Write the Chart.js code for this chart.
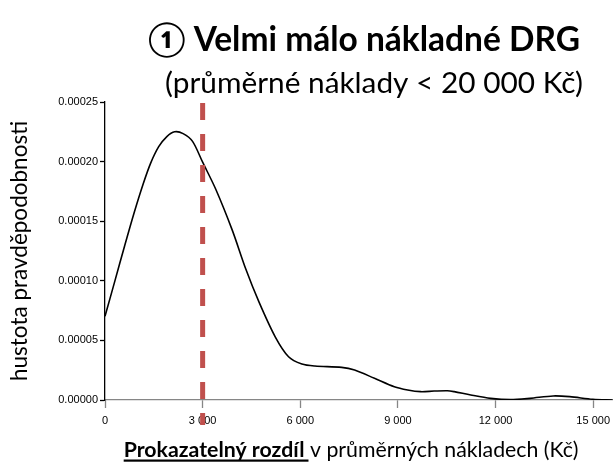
<!DOCTYPE html>
<html>
<head>
<meta charset="utf-8">
<script src="https://cdn.jsdelivr.net/npm/chart.js@4"></script>
<style>
  html, body { margin: 0; padding: 0; background: #fff; }
  #wrap { width: 616px; height: 463px; }
</style>
</head>
<body>
<div id="wrap"><canvas id="hustotaChart" width="616" height="463"></canvas></div>
<script>
// hodnoty (rozdíl v Kč -> hustota)
const rozdil = [0, 300, 600, 900, 1170, 1400, 1650, 1900, 2140, 2400, 2690, 3000, 3400, 3910, 4320, 4730, 5230, 5640, 6050, 6450, 7270, 7670, 8280, 8890, 9300, 9700, 10110, 10520, 10730, 11240, 11850, 12460, 13060, 13770, 14280, 14990, 15600];
const hustota = [0.0000702, 0.0000995, 0.000129, 0.0001575, 0.000181, 0.0001985, 0.0002125, 0.000221, 0.000225, 0.0002235, 0.000217, 0.0001995, 0.000177, 0.0001425, 0.0001103, 0.0000823, 0.000053, 0.0000363, 0.0000302, 0.0000285, 0.0000274, 0.0000251, 0.0000182, 0.0000111, 0.0000084, 0.000007, 0.0000075, 0.0000078, 0.000007, 0.0000042, 0.0000014, 0.0000003, 0.0000014, 0.0000034, 0.0000028, 0.0000006, 0.0000000];
const prah = 3000;
const xTicks = [0, 3000, 6000, 9000, 12000, 15000];

const titulek = '\u2460 Velmi málo nákladné DRG';
const podtitulek = '(průměrné náklady < 20 000 Kč)';
const popisXTucne = 'Prokazatelný rozdíl';
const popisX = ' v průměrných nákladech (Kč)';
const popisY = 'hustota pravděpodobnosti';

const texty = {
  id: 'texty',
  afterDraw(chart) {
    const c = chart.ctx;
    const xs = chart.scales.x, ys = chart.scales.y;
    // svislá přerušovaná čára na hodnotě 3000
    const px = xs.getPixelForValue(prah);
    c.save();
    c.strokeStyle = '#C0504D';
    c.lineWidth = 5;
    c.setLineDash([17, 14]);
    c.beginPath();
    c.moveTo(px, ys.getPixelForValue(0.00025) + 1);
    c.lineTo(px, ys.getPixelForValue(0) + 25);
    c.stroke();
    c.restore();

    c.save();
    c.fillStyle = '#000';
    c.textBaseline = 'alphabetic';
    c.textAlign = 'center';
    c.font = 'bold 33.5px Lato, "DejaVu Sans"';
    c.fillText(titulek, 364, 51);
    c.font = '29.8px Lato';
    c.fillText(podtitulek, 374, 93);

    // popis osy x, první část tučně a podtržená
    c.textAlign = 'left';
    c.font = 'bold 21.3px Lato';
    const w1 = c.measureText(popisXTucne).width;
    c.font = '21.3px Lato';
    const w2 = c.measureText(popisX).width;
    const x0 = 351 - (w1 + w2) / 2;
    c.font = 'bold 21.3px Lato';
    c.fillText(popisXTucne, x0, 457);
    c.fillRect(x0, 459.5, w1 + 4, 2.2);
    c.font = '21.3px Lato';
    c.fillText(popisX, x0 + w1, 457);
    c.restore();
  }
};

new Chart(document.getElementById('hustotaChart'), {
  type: 'line',
  data: {
    datasets: [{
      data: rozdil.map((x, i) => ({ x: x, y: hustota[i] })),
      borderColor: '#000',
      borderWidth: 1.6,
      pointRadius: 0,
      fill: false,
      tension: 0.3
    }]
  },
  options: {
    responsive: false,
    animation: false,
    layout: { padding: { top: 102, left: 0, right: 0, bottom: 0 } },
    plugins: { legend: { display: false }, tooltip: { enabled: false } },
    scales: {
      x: {
        type: 'linear',
        min: 0,
        max: 15600,
        afterFit(s) { s.height = 63; },
        afterBuildTicks(s) { s.ticks = xTicks.map(v => ({ value: v })); },
        border: { color: '#868686', width: 1.3 },
        grid: { drawOnChartArea: false, tickLength: 8, color: '#868686', tickWidth: 1.3 },
        ticks: {
          padding: 6,
          color: '#000',
          font: { family: 'Liberation Sans', size: 11 },
          maxRotation: 0,
          callback: v => v === 0 ? '0' : String(v).replace(/\B(?=(\d{3})+(?!\d))/g, ' ')
        }
      },
      y: {
        min: 0,
        max: 0.00025,
        afterFit(s) { s.width = 105; },
        border: { color: '#000', width: 1.3 },
        grid: { drawOnChartArea: false, tickLength: 5, color: '#000', tickWidth: 1.3 },
        ticks: {
          stepSize: 0.00005,
          padding: 2,
          color: '#000',
          font: { family: 'Liberation Sans', size: 11 },
          callback: v => v.toFixed(5)
        },
        title: {
          display: true,
          text: popisY,
          color: '#000',
          font: { family: 'Lato', size: 22.5 },
          padding: { top: 6, bottom: 20 }
        }
      }
    }
  },
  plugins: [texty]
});
</script>
</body>
</html>
